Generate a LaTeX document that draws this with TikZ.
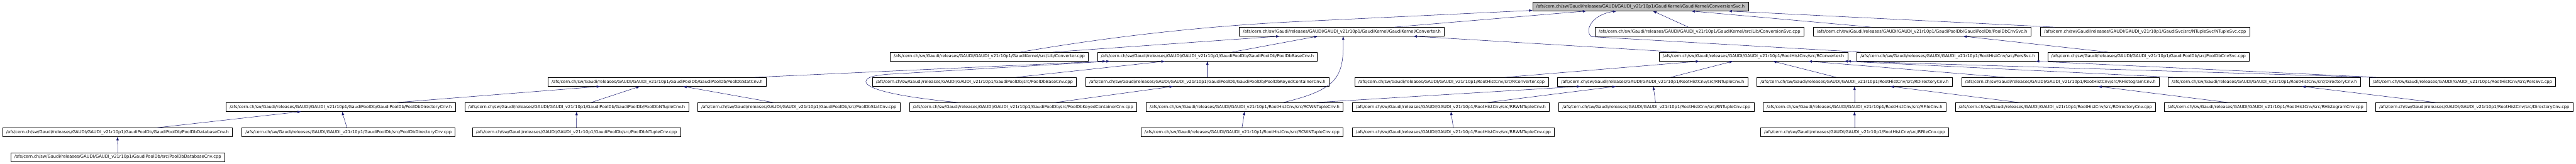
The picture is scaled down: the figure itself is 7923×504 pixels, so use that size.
\documentclass[tikz,border=0pt]{standalone}
\usepackage{fontspec}
\setmainfont{DejaVu Sans}
\usetikzlibrary{arrows.meta}
\definecolor{edgeblue}{RGB}{25,25,112}
\definecolor{rootgrey}{RGB}{191,191,191}
\newcommand\gaudirel{/afs/cern.ch/sw/Gaudi/releases/GAUDI/GAUDI\_v21r10p1/}
\begin{document}
\begin{tikzpicture}[x=1pt,y=-1pt,>={Triangle[length=11pt,width=7pt]},
 file/.style={draw,line width=1pt,minimum height=27pt,inner xsep=11pt,inner ysep=0pt,
   font=\fontsize{13}{15}\selectfont},
 inc/.style={->,edgeblue,line width=1pt}]
 \useasboundingbox (0,0) rectangle (7923,504);
 \node[file,fill=rootgrey] (cnvsvch) at (5045.5,20) {\gaudirel GaudiKernel/GaudiKernel/ConversionSvc.h};
 \node[file] (cnvh) at (4127,97.5) {\gaudirel GaudiKernel/GaudiKernel/Converter.h};
 \node[file] (cnvsvccpp) at (5227,97.5) {\gaudirel GaudiKernel/src/Lib/ConversionSvc.cpp};
 \node[file] (pdbcnvsvch) at (5911.5,97.5) {\gaudirel GaudiPoolDb/GaudiPoolDb/PoolDbCnvSvc.h};
 \node[file] (ntsvccpp) at (6597.5,97.5) {\gaudirel GaudiSvc/src/NTupleSvc/NTupleSvc.cpp};
 \node[file] (convcpp) at (3042.5,174.5) {\gaudirel GaudiKernel/src/Lib/Converter.cpp};
 \node[file] (basecnvh) at (3713.5,174.5) {\gaudirel GaudiPoolDb/GaudiPoolDb/PoolDbBaseCnv.h};
 \node[file] (rconvh) at (5393,174.5) {\gaudirel RootHistCnv/src/RConverter.h};
 \node[file] (perssvch) at (5990.5,174.5) {\gaudirel RootHistCnv/src/PersSvc.h};
 \node[file] (pdbcnvsvccpp) at (6608,174.5) {\gaudirel GaudiPoolDb/src/PoolDbCnvSvc.cpp};
 \node[file] (statcnvh) at (2021,252) {\gaudirel GaudiPoolDb/GaudiPoolDb/PoolDbStatCnv.h};
 \node[file] (basecnvcpp) at (2997,252) {\gaudirel GaudiPoolDb/src/PoolDbBaseCnv.cpp};
 \node[file] (keyedh) at (3713.5,252) {\gaudirel GaudiPoolDb/GaudiPoolDb/PoolDbKeyedContainerCnv.h};
 \node[file] (rconvcpp) at (4464.5,252) {\gaudirel RootHistCnv/src/RConverter.cpp};
 \node[file] (rntupleh) at (5083,252) {\gaudirel RootHistCnv/src/RNTupleCnv.h};
 \node[file] (rdirh) at (5704,252) {\gaudirel RootHistCnv/src/RDirectoryCnv.h};
 \node[file] (rhistoh) at (6337,252) {\gaudirel RootHistCnv/src/RHistogramCnv.h};
 \node[file] (dirh) at (6964,252) {\gaudirel RootHistCnv/src/DirectoryCnv.h};
 \node[file] (perssvccpp) at (7573.5,252) {\gaudirel RootHistCnv/src/PersSvc.cpp};
 \node[file] (dircnvh) at (1048,329.5) {\gaudirel GaudiPoolDb/GaudiPoolDb/PoolDbDirectoryCnv.h};
 \node[file] (ntupleh) at (1773.5,329.5) {\gaudirel GaudiPoolDb/GaudiPoolDb/PoolDbNTupleCnv.h};
 \node[file] (statcnvcpp) at (2457,329.5) {\gaudirel GaudiPoolDb/src/PoolDbStatCnv.cpp};
 \node[file] (keyedcpp) at (3146.5,329.5) {\gaudirel GaudiPoolDb/src/PoolDbKeyedContainerCnv.cpp};
 \node[file] (rcwnh) at (3828,329.5) {\gaudirel RootHistCnv/src/RCWNTupleCnv.h};
 \node[file] (rrwnh) at (4462.5,329.5) {\gaudirel RootHistCnv/src/RRWNTupleCnv.h};
 \node[file] (rntuplecpp) at (5094.5,329.5) {\gaudirel RootHistCnv/src/RNTupleCnv.cpp};
 \node[file] (rfileh) at (5704,329.5) {\gaudirel RootHistCnv/src/RFileCnv.h};
 \node[file] (rdircpp) at (6321.5,329.5) {\gaudirel RootHistCnv/src/RDirectoryCnv.cpp};
 \node[file] (rhistocpp) at (6968,329.5) {\gaudirel RootHistCnv/src/RHistogramCnv.cpp};
 \node[file] (dircpp) at (7610,329.5) {\gaudirel RootHistCnv/src/DirectoryCnv.cpp};
 \node[file] (databaseh) at (361.5,407) {\gaudirel GaudiPoolDb/GaudiPoolDb/PoolDbDatabaseCnv.h};
 \node[file] (dircnvcpp) at (1072,407) {\gaudirel GaudiPoolDb/src/PoolDbDirectoryCnv.cpp};
 \node[file] (ntuplecpp) at (1773,407) {\gaudirel GaudiPoolDb/src/PoolDbNTupleCnv.cpp};
 \node[file] (rcwncpp) at (3820,407) {\gaudirel RootHistCnv/src/RCWNTupleCnv.cpp};
 \node[file] (rrwncpp) at (4470,407) {\gaudirel RootHistCnv/src/RRWNTupleCnv.cpp};
 \node[file] (rfilecpp) at (5704,407) {\gaudirel RootHistCnv/src/RFileCnv.cpp};
 \node[file] (databasecpp) at (362,484) {\gaudirel GaudiPoolDb/src/PoolDbDatabaseCnv.cpp};
 \draw[inc] (databasecpp.north) -- (databaseh.south);
 \draw[inc] ([xshift=122.5pt]databaseh.north) -- ([xshift=-122pt]dircnvh.south);
 \draw[inc] ([xshift=-5pt]dircnvcpp.north) -- ([xshift=4pt]dircnvh.south);
 \draw[inc] ([xshift=172pt]dircnvh.north) -- ([xshift=-175pt]statcnvh.south);
 \draw[inc] ([xshift=44.5pt]ntupleh.north) -- ([xshift=-53pt]statcnvh.south);
 \draw[inc] (ntuplecpp.north) -- (ntupleh.south);
 \draw[inc] ([xshift=-78pt]statcnvcpp.north) -- ([xshift=80pt]statcnvh.south);
 \draw[inc] ([xshift=301pt]statcnvh.north) -- ([xshift=-311.5pt]basecnvh.south);
 \draw[inc] ([xshift=-199.5pt]keyedcpp.north) .. controls (2700,292) and (2645,262) .. (2668,243)
   .. controls (2678,234) and (2700,232) .. (2725,229) -- ([xshift=-299.5pt]basecnvh.south);
 \draw[inc] ([xshift=127pt]basecnvcpp.north) -- ([xshift=-130.5pt]basecnvh.south);
 \draw[inc] (keyedh.north) -- (basecnvh.south);
 \draw[inc] ([xshift=99.5pt]keyedcpp.north) -- ([xshift=-105.5pt]keyedh.south);
 \draw[inc] ([xshift=95.5pt]convcpp.north) .. controls (3400,115) and (3700,80) .. (4000,66)
   -- ([yshift=2pt]cnvsvch.south west);
 \draw[inc] ([xshift=195.5pt]convcpp.north) -- ([xshift=-191pt]cnvh.south);
 \draw[inc] ([xshift=75.5pt]basecnvh.north) -- ([xshift=-74pt]cnvh.south);
 \draw[inc] ([xshift=161pt]cnvh.north) -- ([xshift=-166.5pt]cnvsvch.south);
 \draw[inc] ([xshift=119pt]rcwnh.north) .. controls (4110,276) and (4134,240) .. ([xshift=4pt]cnvh.south);
 \draw[inc] ([xshift=219pt]rcwnh.north) -- ([xshift=-222pt]rntupleh.south);
 \draw[inc] (rcwncpp.north) -- (rcwnh.south);
 \draw[inc] ([xshift=-229pt]rconvh.north) -- ([xshift=220pt]cnvh.south);
 \draw[inc] ([xshift=-34pt]cnvsvccpp.north) -- ([xshift=38.5pt]cnvsvch.south);
 \draw[inc] ([xshift=-266.5pt]perssvch.north) -- (4895,113) .. controls (4872,95) and (4895,45)
   .. ([xshift=-73.5pt]cnvsvch.south);
 \draw[inc] ([xshift=-155.5pt]pdbcnvsvch.north) -- ([xshift=156.5pt]cnvsvch.south);
 \draw[inc] ([xshift=-277.5pt]ntsvccpp.north) -- ([xshift=270.5pt]cnvsvch.south);
 \draw[inc] ([xshift=-124pt]pdbcnvsvccpp.north) -- ([xshift=126.5pt]pdbcnvsvch.south);
 \draw[inc] ([xshift=164.5pt]rconvcpp.north) -- ([xshift=-166pt]rconvh.south);
 \draw[inc] ([xshift=55pt]rntupleh.north) -- ([xshift=-63pt]rconvh.south);
 \draw[inc] ([xshift=111.5pt]rrwnh.north) -- ([xshift=-113pt]rntupleh.south);
 \draw[inc] ([xshift=-2.5pt]rntuplecpp.north) -- ([xshift=2pt]rntupleh.south);
 \draw[inc] (rrwncpp.north) -- (rrwnh.south);
 \draw[inc] ([xshift=-56pt]rdirh.north) -- ([xshift=60pt]rconvh.south);
 \draw[inc] ([xshift=-169pt]rhistoh.north) -- ([xshift=169pt]rconvh.south);
 \draw[inc] ([xshift=-280pt]dirh.north) -- ([xshift=279pt]rconvh.south);
 \draw[inc] ([xshift=-274.5pt]perssvccpp.north) -- ([xshift=289pt]rconvh.south);
 \draw[inc] ([xshift=-264.5pt]perssvccpp.north) -- ([xshift=270.5pt]perssvch.south);
 \draw[inc] (rfileh.north) -- (rdirh.south);
 \draw[inc] ([xshift=-111.5pt]rdircpp.north) -- ([xshift=110pt]rdirh.south);
 \draw[inc] (rfilecpp.north) -- (rfileh.south);
 \draw[inc] ([xshift=-115pt]rhistocpp.north) -- ([xshift=116pt]rhistoh.south);
 \draw[inc] ([xshift=-118pt]dircpp.north) -- ([xshift=116pt]dirh.south);
\end{tikzpicture}
\end{document}
